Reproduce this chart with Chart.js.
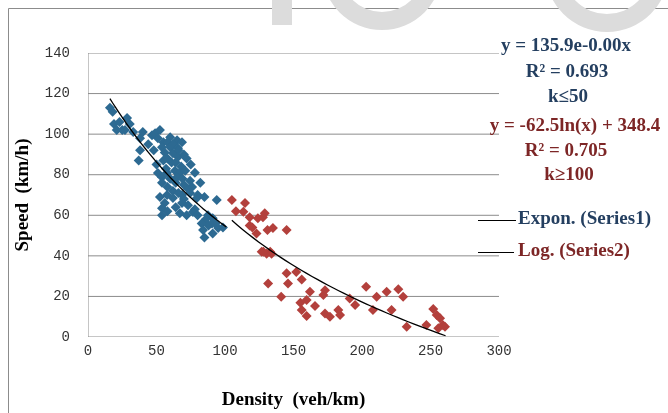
<!DOCTYPE html>
<html>
<head>
<meta charset="utf-8">
<script src="https://cdn.jsdelivr.net/npm/chart.js@4.4.1/dist/chart.umd.min.js"></script>
<style>
html, body { margin: 0; padding: 0; background: #fff; }
</style>
</head>
<body>
<canvas id="grafico" width="668" height="413"></canvas>
<script>
// densidad (veh/km), velocidad (km/h)
const series1 = [
  [16,113],[18,111],[19,105],[21,102],[25,102],[27,102],[28.5,108],[30.5,105],[23,106],[33,101],
  [38,98],[40,101],[38,92],[37,87],[44,95],[46.7,99.5],[49,100.5],[52.5,102],[51,98],[48,92],
  [55,96],[60,98.5],[65,97],[68.6,96],[58,96],[62,95],[54,93.6],[56,91],[60,93.6],[62,90.6],
  [65.7,93],[66,92],[65.7,88.7],[70,90],[72,88],[61,86],[55,87],[58,88],[64,86],[68,84],
  [50,85],[57,83],[51,80.8],[54,78.8],[57.7,81],[63.5,82],[67,81],[71,82],[75,85],[78,81],
  [65,78.8],[69,78],[74.5,77],[82,76],[60,78],[64,76],[70,75],[73,73],[76,74],[54,76],
  [58,74],[62,72],[66,71],[52.5,69],[57.7,70],[62,68.5],[68.6,70],[74.5,71],[80,70],[70,68],
  [68.6,66],[73,65],[79.5,68.5],[85,69],[94,67.5],[56,66],[64,64],[54,63.5],[58,62],[54,60],
  [67,61],[72,60],[76.6,61.6],[78,63],[80,60],[87.6,60],[91,58.6],[86,58],[83,56],[84,52.7],
  [85,49],[90.5,56],[88,55],[93,56],[91,51],[95,53.7],[98.5,54]
];
const series2 = [
  [105,67.5],[114.6,66],[113.4,61.7],[108,62],[118,59],[124,58.6],[127.7,59],[129,61],[120,54],[118,55],
  [123,51],[131,52.7],[135,53.7],[145,52.7],[126.8,42],[133,42],[130.4,41],[128,42],[134,41],[145,31.4],
  [152,32],[131.5,26.4],[146,26.4],[156,28.4],[141,19.9],[162,22.3],[155,16.9],[159.6,18.2],[156,13.3],[159.6,10.3],
  [165.7,15.3],[171.8,20.7],[173,23],[173,11.6],[176.6,10],[182.7,13.3],[184,10.8],[191,19],[195,15.8],[203,24.8],
  [210.7,19.9],[218,22.3],[226.5,23.5],[230,19.9],[208,13.3],[221.6,13.3],[232.6,5],[247,5.9],[252,13.8],[254.5,10.8],
  [257,9.2],[259,5.9],[255.7,4.3],[260.6,5]
];

// tendencias: y = a*e^(b*x)  y  y = a*ln(x) + b
const expFit = [135.9, -0.0091];
const expRange = [16, 101];
const logFit = [-62.5, 348.4];
const logRange = [105, 261];

const xEje = [0, 300, 50];   // min, max, paso
const yEje = [0, 140, 20];

const notas1 = ['y = 135.9e-0.00x', 'R\u00b2 = 0.693', 'k\u226450'];
const notas2 = ['y = -62.5ln(x) + 348.4', 'R\u00b2 = 0.705', 'k\u2265100'];
const leyenda = ['Expon. (Series1)', 'Log. (Series2)'];

const azul = '#2d6a92';
const rojo = '#b3403c';
const azulTexto = '#243f60';
const rojoTexto = '#7d2626';
const gris = '#8c8c8c';

function curva(f, rango) {
  let pts = [];
  for (let i = 0; i <= 40; i++) {
    let x = rango[0] + (rango[1] - rango[0]) * i / 40;
    pts.push({x: x, y: f(x)});
  }
  return pts;
}
const expLine = curva(x => expFit[0] * Math.exp(expFit[1] * x), expRange);
const logLine = curva(x => logFit[0] * Math.log(x) + logFit[1], logRange);

// rejilla horizontal y eje vertical como series de linea
const rejilla = [];
for (let v = yEje[0]; v <= yEje[1]; v += yEje[2]) {
  rejilla.push({
    label: '',
    data: [{x: xEje[0], y: v}, {x: xEje[1], y: v}],
    showLine: true,
    fill: false,
    pointRadius: 0,
    borderColor: gris,
    backgroundColor: 'transparent',
    borderWidth: 1,
    order: 2,
  });
}
rejilla.push({
  label: '',
  data: [{x: xEje[0], y: yEje[0]}, {x: xEje[0], y: yEje[1]}],
  showLine: true,
  fill: false,
  pointRadius: 0,
  borderColor: gris,
  backgroundColor: 'transparent',
  borderWidth: 1,
  order: 2,
});

const extras = {
  id: 'extras',
  afterDraw(chart) {
    const ctx = chart.ctx;
    ctx.save();
    ctx.strokeStyle = gris;
    ctx.lineWidth = 1;
    ctx.beginPath();
    ctx.moveTo(8.5, chart.height + 5);
    ctx.lineTo(8.5, 8.5);
    ctx.lineTo(chart.width + 5, 8.5);
    ctx.stroke();

    ctx.font = 'bold 19px "Liberation Serif"';
    ctx.textBaseline = 'middle';
    ctx.textAlign = 'center';
    ctx.fillStyle = azulTexto;
    ctx.fillText(notas1[0], 566, 46);
    ctx.fillText(notas1[1], 567, 72);
    ctx.fillText(notas1[2], 568, 97);
    ctx.fillStyle = rojoTexto;
    ctx.fillText(notas2[0], 575, 126);
    ctx.fillText(notas2[1], 566, 151);
    ctx.fillText(notas2[2], 569, 175);

    // leyenda de tendencias
    ctx.textAlign = 'left';
    ctx.strokeStyle = '#000';
    ctx.beginPath();
    ctx.moveTo(478, 220.5); ctx.lineTo(516, 220.5);
    ctx.moveTo(478, 252.5); ctx.lineTo(514, 252.5);
    ctx.stroke();
    ctx.fillStyle = azulTexto;
    ctx.fillText(leyenda[0], 518, 219);
    ctx.fillStyle = rojoTexto;
    ctx.fillText(leyenda[1], 518, 251);

    // marca de agua
    ctx.fillStyle = '#dcdcdc';
    ctx.fillRect(272, 0, 20, 25);
    [[382, -30, 60, 42], [607, -30, 62, 44]].forEach(r => {
      ctx.beginPath();
      ctx.arc(r[0], r[1], r[2], 0, Math.PI * 2);
      ctx.arc(r[0], r[1], r[3], 0, Math.PI * 2, true);
      ctx.fill();
    });
    ctx.restore();
  }
};

const ctx = document.getElementById('grafico').getContext('2d');
new Chart(ctx, {
  type: 'scatter',
  data: {
    datasets: [
      {
        label: leyenda[0],
        data: expLine,
        showLine: true,
        fill: false,
        pointRadius: 0,
        borderColor: '#000',
        backgroundColor: 'transparent',
        borderWidth: 1.3,
        order: 0,
      },
      {
        label: leyenda[1],
        data: logLine,
        showLine: true,
        fill: false,
        pointRadius: 0,
        borderColor: '#000',
        backgroundColor: 'transparent',
        borderWidth: 1.3,
        order: 0,
      },
      {
        label: 'Series1',
        data: series1.map(p => ({x: p[0], y: p[1]})),
        pointStyle: 'rectRot',
        pointRadius: 5,
        backgroundColor: azul,
        borderColor: azul,
        borderWidth: 0,
        order: 1,
      },
      {
        label: 'Series2',
        data: series2.map(p => ({x: p[0], y: p[1]})),
        pointStyle: 'rectRot',
        pointRadius: 5,
        backgroundColor: rojo,
        borderColor: rojo,
        borderWidth: 0,
        order: 1,
      },
    ].concat(rejilla),
  },
  options: {
    responsive: false,
    animation: false,
    layout: {
      padding: {left: 0, top: 53, right: 169, bottom: 0}
    },
    plugins: {
      legend: {display: false},
      tooltip: {enabled: false},
    },
    scales: {
      x: {
        type: 'linear',
        min: xEje[0],
        max: xEje[1],
        afterFit: s => { s.height = 76; },
        grid: {display: false, drawTicks: false},
        border: {display: false},
        ticks: {
          stepSize: xEje[2],
          color: '#333',
          padding: 6,
          maxRotation: 0,
          font: {family: '"Liberation Mono"', size: 14},
        },
        title: {
          display: true,
          text: 'Density  (veh/km)',
          color: '#000',
          padding: {top: 0, bottom: 2},
          font: {family: '"Liberation Serif"', size: 19, weight: 'bold'},
        },
      },
      y: {
        type: 'linear',
        min: yEje[0],
        max: yEje[1],
        afterFit: s => { s.width = 88; },
        grid: {display: false, drawTicks: false},
        border: {display: false},
        ticks: {
          stepSize: yEje[2],
          color: '#333',
          padding: 18,
          font: {family: '"Liberation Mono"', size: 14},
        },
        title: {
          display: true,
          text: 'Speed  (km/h)',
          color: '#000',
          padding: {top: 12, bottom: 0},
          font: {family: '"Liberation Serif"', size: 19, weight: 'bold'},
        },
      },
    },
  },
  plugins: [extras],
});
</script>
</body>
</html>
